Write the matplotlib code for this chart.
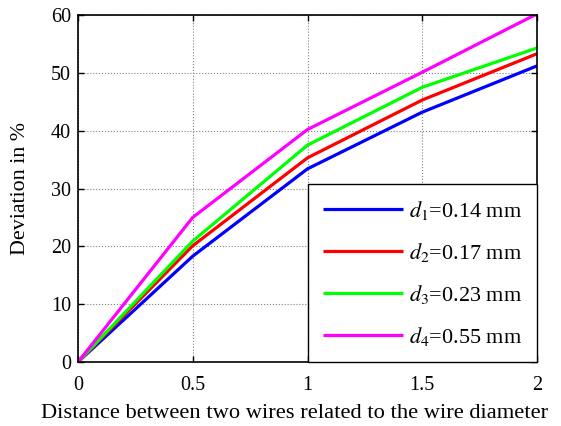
import matplotlib
matplotlib.use("Agg")
import matplotlib.pyplot as plt

x = [0, 0.5, 1, 1.5, 2]
d1 = [0, 18.3, 33.4, 43.2, 51.2]
d2 = [0, 20.1, 35.3, 45.3, 53.3]
d3 = [0, 20.9, 37.5, 47.5, 54.3]
d4 = [0, 25.0, 40.2, 50.1, 60.2]
labels = ["$d_1$=0.14 mm", "$d_2$=0.17 mm", "$d_3$=0.23 mm", "$d_4$=0.55 mm"]
colors = ["#0000ff", "#ff0000", "#00ff00", "#ff00ff"]
xticks = [0, 0.5, 1, 1.5, 2]
xticklabels = ["0", "0.5", "1", "1.5", "2"]
yticks = [0, 10, 20, 30, 40, 50, 60]

plt.rcParams['font.family'] = ['Liberation Serif', 'DejaVu Serif']
plt.rcParams['mathtext.fontset'] = 'stix'

fig = plt.figure(figsize=(5.61, 4.26), dpi=100)
ax = fig.add_axes([78/561, 1 - 362/426, (537-78)/561, (362-15)/426])

for s, lab, c in zip([d1, d2, d3, d4], labels, colors):
    ax.plot(x, s, color=c, lw=2.3, label=lab, solid_capstyle='butt')

ax.set_xlim(0, 2)
ax.set_ylim(0, 60)
ax.set_xticks(xticks)
ax.set_xticklabels(xticklabels)
ax.set_yticks(yticks)
ax.grid(True, color='#808080', ls=':', lw=0.8)
ax.tick_params(direction='in', top=True, right=True, labelsize=14.5, length=4, width=1)
ax.tick_params(axis='x', pad=10)
ax.tick_params(axis='y', pad=5)
for sp in ax.spines.values():
    sp.set_linewidth(1.2)
ax.set_xlabel("Distance between two wires related to the wire diameter", fontsize=16.2, labelpad=7)
ax.xaxis.set_label_coords(0.471, -0.148)
ax.xaxis.label.set_va('center')
ax.set_ylabel("Deviation in %", fontsize=15.8, labelpad=15)

leg = ax.legend(loc='lower right', fontsize=16, frameon=True, fancybox=False,
                edgecolor='black', framealpha=1, borderaxespad=0, handlelength=3.6,
                handletextpad=0.3, labelspacing=0.85, borderpad=0.65)
leg.get_frame().set_linewidth(1.0)

fig.savefig("out.png", dpi=100)
